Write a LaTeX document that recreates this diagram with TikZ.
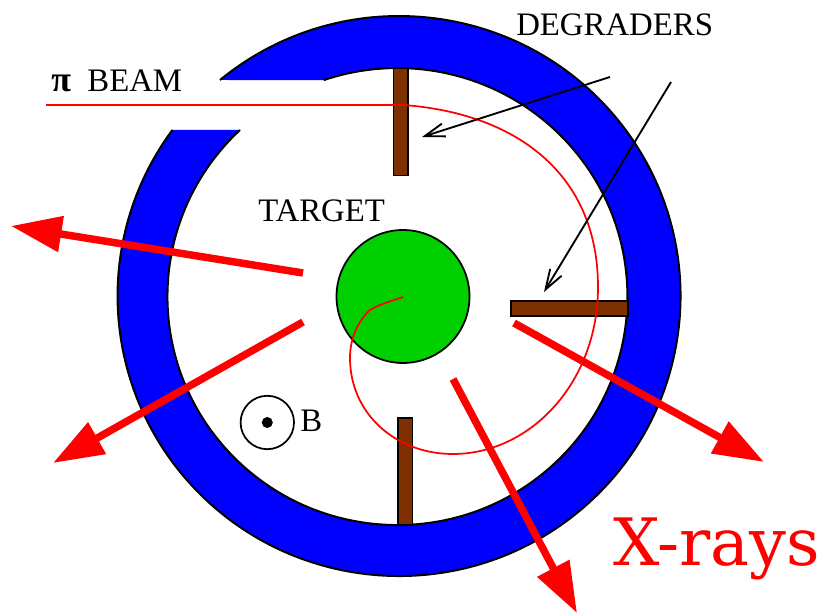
\documentclass[tikz,border=0pt]{standalone}
\usepackage{fontspec}
\setmainfont{Liberation Serif}
\newfontfamily\xrayfont{DejaVu Serif}
\usetikzlibrary{arrows.meta}
\definecolor{ringBlue}{RGB}{0, 0, 255}
\definecolor{bulbGreen}{RGB}{0, 207, 0}
\definecolor{degBrown}{RGB}{127, 48, 0}
\definecolor{rayRed}{RGB}{255, 0, 0}
\tikzset{
  label/.style={inner sep=0pt, anchor=base west, font=\fontsize{24.6}{28}\selectfont},
  degrader/.style={fill=degBrown, draw=black, line width=0.8pt},
  xray/.style={rayRed, line width=5.6pt, -{Triangle[length=38pt, width=26pt]}},
  pointer/.style={black, line width=1.4pt, -{Straight Barb[length=15pt, width=10pt]}},
  track/.style={rayRed, line width=1.3pt}
}
\begin{document}
\begin{tikzpicture}[x=0.75pt, y=0.75pt]
      \useasboundingbox (0,0) rectangle (822,613);

      % ring
      \fill[ringBlue] (220,533) arc[start angle=129.5, end angle=-216.4, x radius=281.5, y radius=280]
        -- (240,483) arc[start angle=-226.8, end angle=108.7, x radius=230, y radius=228.5] -- cycle;
      \draw[line width=1.5pt] (220,533) arc[start angle=129.5, end angle=-216.4, x radius=281.5, y radius=280];
      \draw[line width=1.5pt] (240,483) arc[start angle=-226.8, end angle=108.7, x radius=230, y radius=228.5];

      \draw[degrader] (393.5,545) rectangle (408,437.5);
      \draw[degrader] (511,312) rectangle (628,297);
      \draw[degrader] (398,195) rectangle (412.7,88);

      \draw[fill=bulbGreen, line width=1.3pt] (403,316.5) circle (66.5);

      % pion track
      \draw[track] (46,508) -- (403,508) .. controls (515,500) and (598,440) .. (598,326)
        .. controls (598,230) and (530,159) .. (453,159) .. controls (395,159) and (350,200) .. (350,255)
        .. controls (350,275) and (358,292) .. (370,303) .. controls (380,309) and (392,312) .. (403,316);

      \coordinate (rayA) at (303,340);
      \coordinate (tipA) at (11,387);
      \coordinate (rayB) at (303,291);
      \coordinate (tipB) at (53,150);
      \coordinate (rayC) at (514,290);
      \coordinate (tipC) at (764,151);
      \coordinate (rayD) at (453,234);
      \coordinate (tipD) at (577,0);
      \draw[xray] (rayA) -- (tipA);
      \draw[xray] (rayB) -- (tipB);
      \draw[xray] (rayC) -- (tipC);
      \draw[xray] (rayD) -- (tipD);

      \coordinate (degA) at (610,536);
      \coordinate (endA) at (422,476);
      \coordinate (degB) at (671,531);
      \coordinate (endB) at (544,321);
      \draw[pointer] (degA) -- (endA);
      \draw[pointer] (degB) -- (endB);

      % field symbol
      \draw[line width=1.3pt] (267.3,190.5) circle (26.7);
      \fill (267.3,190.5) circle (5.5);

      \node[label] (degraders) at (516,577.3) {DEGRADERS};
      \node[label] (beam) at (51,521.5) {{\bfseries\fontsize{27}{28}\selectfont π}\hspace{0.5em}BEAM};
      \node[label] (target) at (258,391) {TARGET};
      \node[label] (bfield) at (300,181) {B};
      \node[inner sep=0pt, anchor=base west, rayRed, font=\fontsize{49}{56}\selectfont\xrayfont] (xrays) at (613,47) {X-rays};
    \end{tikzpicture}
\end{document}
